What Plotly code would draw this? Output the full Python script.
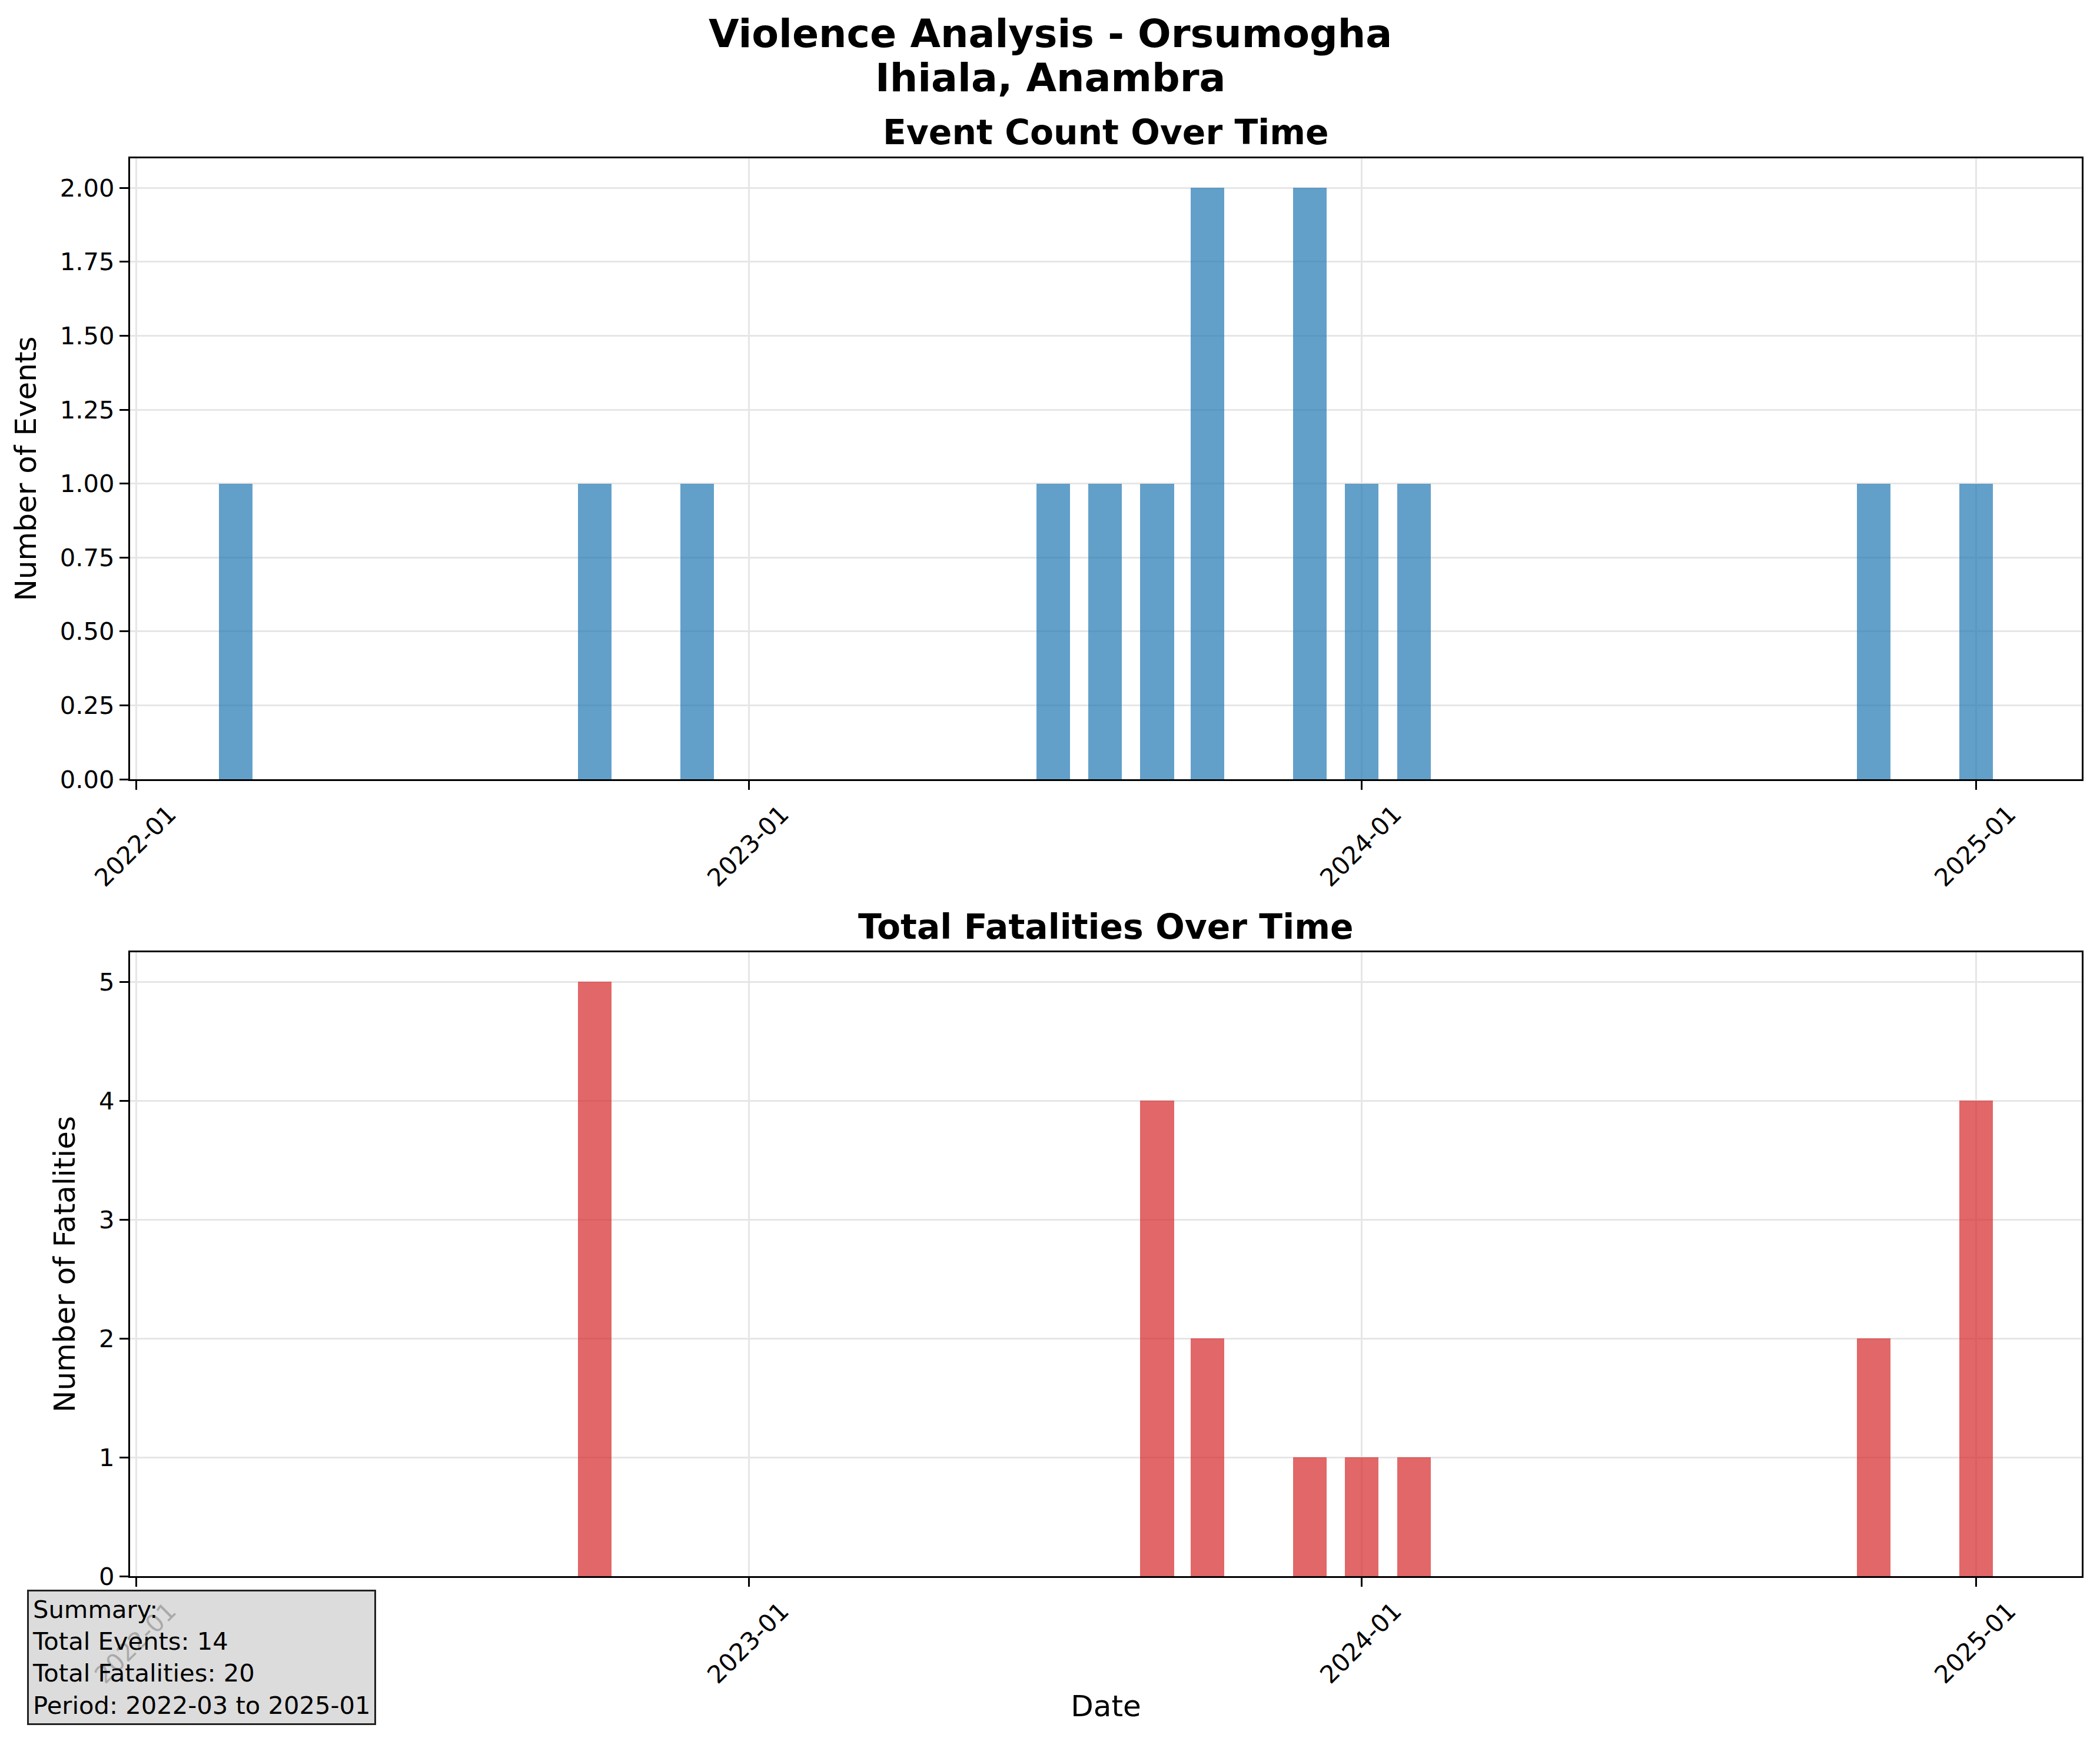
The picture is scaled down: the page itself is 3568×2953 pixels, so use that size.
import plotly.graph_objects as go
from plotly.subplots import make_subplots

# monthly aggregates (month start dates)
MONTHS = [
    "2022-03-01", "2022-10-01", "2022-12-01", "2023-07-01", "2023-08-01", "2023-09-01",
    "2023-10-01", "2023-12-01", "2024-01-01", "2024-02-01", "2024-11-01", "2025-01-01",
]
EVENT_COUNTS = [1, 1, 1, 1, 1, 1, 2, 2, 1, 1, 1, 1]
FATALITIES = [0, 5, 0, 0, 0, 4, 2, 1, 1, 1, 2, 4]

TITLE_LINES = ["Violence Analysis - Orsumogha", "Ihiala, Anambra"]
SUBPLOT_TITLES = ["Event Count Over Time", "Total Fatalities Over Time"]

W, H = 3568, 2953
PT = 300 / 72  # matplotlib points -> px at 300 dpi
FONT = "DejaVu Sans"
BAR_WIDTH_MS = 20 * 86400000  # 20 days
X_RANGE = ["2021-12-28 04:00", "2025-03-04 20:00"]

fig = make_subplots(rows=2, cols=1)

fig.add_trace(
    go.Bar(x=MONTHS, y=EVENT_COUNTS, width=BAR_WIDTH_MS,
           marker=dict(color="rgba(31,119,180,0.7)", line=dict(width=0)), showlegend=False),
    row=1, col=1,
)
fig.add_trace(
    go.Bar(x=MONTHS, y=FATALITIES, width=BAR_WIDTH_MS,
           marker=dict(color="rgba(214,39,40,0.7)", line=dict(width=0)), showlegend=False),
    row=2, col=1,
)

x_dom = [221 / W, 3537 / W]
axis_common = dict(
    showline=True, mirror=True, linecolor="black", linewidth=3.3,
    ticks="outside", ticklen=15, tickwidth=3.3, tickcolor="black",
    showgrid=True, gridcolor="#e6e6e6", gridwidth=3.3, zeroline=False,
    automargin=False,
    tickfont=dict(family=FONT, size=10 * PT, color="black"),
)
xaxis_common = dict(
    axis_common, type="date", range=X_RANGE, tick0="2022-01-01", dtick="M12",
    tickformat="%Y-%m", tickangle=-45, ticklabelshift=55, domain=x_dom,
)

fig.update_layout(
    width=W, height=H,
    margin=dict(l=0, r=0, t=0, b=0),
    paper_bgcolor="white", plot_bgcolor="white",
    font=dict(family=FONT, color="black"),
    bargap=0,
    xaxis=dict(xaxis_common),
    xaxis2=dict(xaxis_common, title=dict(text="Date", font=dict(size=12 * PT), standoff=12)),
    yaxis=dict(axis_common, domain=[1 - 1324 / H, 1 - 269 / H], range=[0, 2.1], dtick=0.25,
               tickformat=".2f",
               title=dict(text="Number of Events", font=dict(size=12 * PT), standoff=25)),
    yaxis2=dict(axis_common, domain=[1 - 2678 / H, 1 - 1618 / H], range=[0, 5.25], dtick=1,
                title=dict(text="Number of Fatalities", font=dict(size=12 * PT), standoff=25)),
)

# figure title, two lines
for text, ypx in zip(TITLE_LINES, [57, 132]):
    fig.add_annotation(text=f"<b>{text}</b>", xref="paper", yref="paper", x=0.5, y=1 - ypx / H,
                       xanchor="center", yanchor="middle", showarrow=False,
                       font=dict(family=FONT, size=16 * PT, color="black"))

# subplot titles
x_mid = (x_dom[0] + x_dom[1]) / 2
for text, ypx in zip(SUBPLOT_TITLES, [225, 1575]):
    fig.add_annotation(text=f"<b>{text}</b>", xref="paper", yref="paper", x=x_mid, y=1 - ypx / H,
                       xanchor="center", yanchor="middle", showarrow=False,
                       font=dict(family=FONT, size=14 * PT, color="black"))

# summary box
total_events = sum(EVENT_COUNTS)
total_fat = sum(FATALITIES)
summary = "<br>".join([
    "Summary:",
    f"Total Events: {total_events}",
    f"Total Fatalities: {total_fat}",
    f"Period: {MONTHS[0][:7]} to {MONTHS[-1][:7]}",
])
fig.add_annotation(text=summary, xref="paper", yref="paper", x=46 / W, y=1 - 2931 / H,
                   xanchor="left", yanchor="bottom", align="left", showarrow=False,
                   bgcolor="rgba(211,211,211,0.8)", bordercolor="#222222", borderwidth=3,
                   borderpad=6,
                   font=dict(family=FONT, size=10 * PT, color="black"))

fig.write_html("out.html", config={"displayModeBar": False},
               post_script="document.body.style.margin='0';")
